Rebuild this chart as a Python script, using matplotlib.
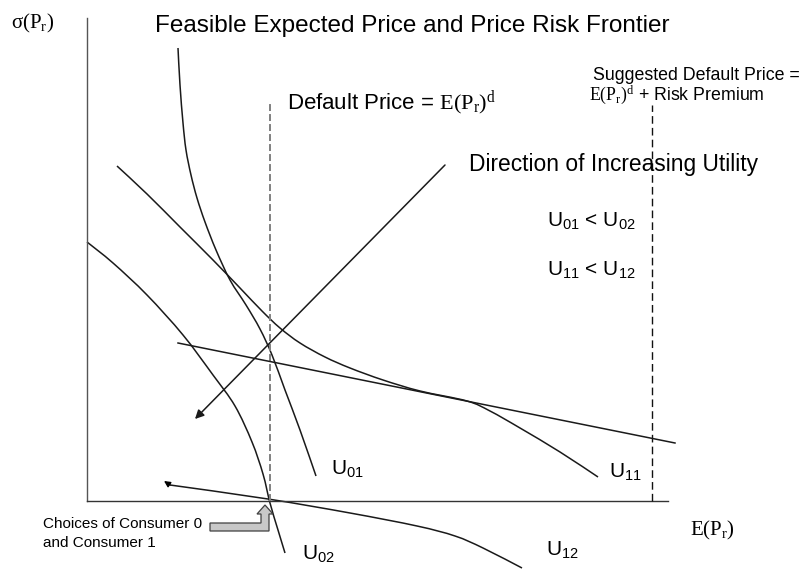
import matplotlib
matplotlib.use("Agg")
import matplotlib.pyplot as plt
from matplotlib.patches import Polygon, PathPatch
from matplotlib.path import Path

plt.rcParams['font.family'] = ['Liberation Sans', 'DejaVu Sans']
plt.rcParams['mathtext.fontset'] = 'custom'
plt.rcParams['mathtext.rm'] = 'Liberation Sans'
plt.rcParams['mathtext.it'] = 'Liberation Sans:italic'
plt.rcParams['mathtext.bf'] = 'Liberation Sans:bold'
plt.rcParams['mathtext.sf'] = 'Liberation Serif'
plt.rcParams['mathtext.default'] = 'regular'
plt.rcParams['lines.scale_dashes'] = False

# ---- data (chart units: origin at the axes corner, x = E(Pr), y = sigma(Pr)) ----
u01_x = [91, 93, 96, 99, 104, 110, 118, 129, 143, 159, 173, 185, 198, 213, 229]
u01_y = [453, 416, 378, 351, 326, 303, 279, 251, 221, 196, 172, 146, 111, 71, 25]

u11_x = [30, 60, 93, 126, 153, 175, 193, 213, 238, 263, 296, 333, 380, 403, 433, 473, 511]
u11_y = [335, 307, 274, 241, 213, 190, 173, 158, 144, 133, 121, 110, 100, 90, 73, 49, 24]

u02_x = [0, 26, 60, 96, 126, 148, 165, 176, 183, 191, 198]
u02_y = [259, 238, 206, 166, 126, 95, 59, 27, -2, -29, -52]

u12_x = [83, 181, 263, 330, 368, 396, 435]
u12_y = [16, 2, -12, -25, -35, -47, -67]
u12_tip = (77, 20)

frontier_x = [91, 588]
frontier_y = [158, 58]

direction_start = (358, 336)
direction_end = (108, 82)

default_price_x = 183
default_top = 398
suggested_price_x = 565
suggested_top = 396

yaxis_top = 483
xaxis_right = 581

callout_x = [123, 174, 174, 170, 178, 186, 182, 182, 123]
callout_y = [-22, -22, -13, -13, -4, -13, -13, -30, -30]

fig = plt.figure(figsize=(8.01, 5.71), dpi=100)
ax = fig.add_axes([0, 0, 1, 1])
ax.set_xlim(-87, 714)
ax.set_ylim(-70, 501)
ax.axis('off')

def P(px, py):
    return px - 87, 501 - py

curve_c = '#1a1a1a'
lw = 1.1

def smooth_curve(xs, ys, **kw):
    """Draw a smooth Bezier path passing through the given points."""
    pts = list(zip(xs, ys))
    n = len(pts)
    verts = [pts[0]]
    codes = [Path.MOVETO]
    for i in range(n - 1):
        p0 = pts[i - 1] if i > 0 else pts[i]
        p1 = pts[i]
        p2 = pts[i + 1]
        p3 = pts[i + 2] if i + 2 < n else pts[i + 1]
        c1 = (p1[0] + (p2[0] - p0[0]) / 6.0, p1[1] + (p2[1] - p0[1]) / 6.0)
        c2 = (p2[0] - (p3[0] - p1[0]) / 6.0, p2[1] - (p3[1] - p1[1]) / 6.0)
        verts += [c1, c2, p2]
        codes += [Path.CURVE4] * 3
    ax.add_patch(PathPatch(Path(verts, codes), fill=False, **kw))

# axes
ax.plot([0, 0], [0, yaxis_top], color='#555555', lw=1.0)
ax.plot([0, xaxis_right], [0, 0], color='#333333', lw=1.0)

# dashed reference lines
ax.plot([default_price_x, default_price_x], [0, default_top], color='#808080',
        lw=1.4, dashes=(5, 2.2))
ax.plot([suggested_price_x, suggested_price_x], [0, suggested_top], color='#111111',
        lw=1.0, dashes=(5.5, 3))

# curves
smooth_curve(u01_x, u01_y, edgecolor=curve_c, lw=lw)
smooth_curve(u11_x, u11_y, edgecolor=curve_c, lw=lw)
smooth_curve(u02_x, u02_y, edgecolor=curve_c, lw=lw)
smooth_curve(u12_x, u12_y, edgecolor=curve_c, lw=lw)
ax.plot(frontier_x, frontier_y, color=curve_c, lw=lw)

ax.annotate('', xy=u12_tip, xytext=(u12_x[0], u12_y[0]),
            arrowprops=dict(arrowstyle='-|>', color='black', lw=1.0,
                            mutation_scale=9, shrinkA=0, shrinkB=0))
ax.annotate('', xy=direction_end, xytext=direction_start,
            arrowprops=dict(arrowstyle='-|>', color=curve_c, lw=1.1,
                            mutation_scale=13, shrinkA=0, shrinkB=0))

# callout block arrow
ax.add_patch(Polygon(list(zip(callout_x, callout_y)), closed=True,
                     facecolor='#c8c8c8', edgecolor='#404040', lw=0.9))

# texts
def T(px, py, s, size, **kw):
    x, y = P(px, py)
    ax.text(x, y, s, fontsize=size, va='baseline', ha=kw.pop('ha', 'left'),
            color='black', **kw)

T(11, 28, r'$\mathsf{σ(P_r)}$', 15)
T(155, 32, 'Feasible Expected Price and Price Risk Frontier', 17.5)
T(287, 109, r'Default Price = $\mathsf{E(P_r)^d}$', 16)
T(593, 80, 'Suggested Default Price =', 12.8)
T(589, 100, r'$\mathsf{E(P_r)^d}$ + Risk Premium', 12.8)
T(469, 171, 'Direction of Increasing Utility', 16.4)
T(547, 227, r'U$_{01}$ < U$_{02}$', 15)
T(547, 276, r'U$_{11}$ < U$_{12}$', 15)
T(331, 475, r'U$_{01}$', 15)
T(609, 478, r'U$_{11}$', 15)
T(302, 560, r'U$_{02}$', 15)
T(546, 556, r'U$_{12}$', 15)
T(690, 535, r'$\mathsf{E(P_r)}$', 15)
T(43, 528, 'Choices of Consumer 0', 11)
T(43, 547, 'and Consumer 1', 11)

fig.savefig('out.png', dpi=100)
